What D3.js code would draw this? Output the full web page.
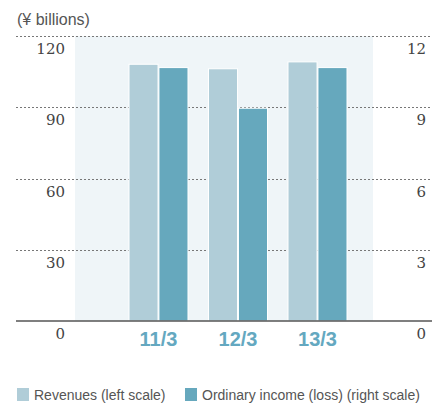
<!DOCTYPE html>
<head>
  <meta charset="utf-8">
  <title>Revenues and Ordinary income</title>
  <script src="https://d3js.org/d3.v7.min.js"></script>
  <style>
    body { margin: 0; background: #fff; }
    #chart { width: 446px; height: 408px; display: block; }
    .tick-label { font-family: "DejaVu Serif", "Liberation Serif", serif; font-size: 15px; fill: #444; }
    .cat-label { font-family: "Liberation Sans", Arial, sans-serif; font-size: 20px; font-weight: bold; fill: #64a8c0; }
    .legend-text { font-family: "Liberation Sans", Arial, sans-serif; font-size: 14px; fill: #555; }
    .unit { font-family: "Liberation Sans", Arial, sans-serif; font-size: 16px; fill: #555; }
  </style>
</head>
<body>
  <svg id="chart"></svg>
  <script>
    var categories = ["11/3", "12/3", "13/3"];
    var revenues = [108.1, 106.2, 109.1];        // left scale, ¥ billions
    var ordinaryIncome = [10.67, 8.96, 10.67];   // right scale, ¥ billions
    var leftTicks = [0, 30, 60, 90, 120];
    var rightTicks = [0, 3, 6, 9, 12];
    var seriesNames = ["Revenues (left scale)", "Ordinary income (loss) (right scale)"];

    var svg = d3.select("#chart");
    var x0 = 16, x1 = 432;
    var yTop = 36, yBase = 321;

    var yLeft = d3.scaleLinear().domain([0, 120]).range([yBase, yTop]);
    var yRight = d3.scaleLinear().domain([0, 12]).range([yBase, yTop]);

    var x = d3.scaleBand().domain(categories).range([129, 347]).paddingInner(0.258).paddingOuter(0);
    var xSub = d3.scaleBand().domain(["rev", "inc"]).range([0, x.bandwidth()]).paddingInner(0.03);

    // light panel behind the bars
    svg.append("rect")
      .attr("x", 75).attr("y", yTop)
      .attr("width", 373 - 75).attr("height", yBase - yTop)
      .attr("fill", "#eff5f8");

    // unit label
    svg.append("text").attr("class", "unit")
      .attr("x", 17).attr("y", 25).text("(¥ billions)");

    // dotted gridlines
    svg.selectAll(".grid")
      .data(leftTicks.filter(function(d) { return d > 0; }))
      .enter().append("line")
      .attr("x1", x0).attr("x2", x1)
      .attr("y1", function(d) { return Math.round(yLeft(d)) + 0.5; })
      .attr("y2", function(d) { return Math.round(yLeft(d)) + 0.5; })
      .attr("stroke", "#777")
      .attr("stroke-width", 1)
      .attr("stroke-dasharray", "2,2");

    // left tick labels
    svg.selectAll(".ltick")
      .data(leftTicks)
      .enter().append("text")
      .attr("class", "tick-label")
      .attr("x", 65)
      .attr("y", function(d) { return yLeft(d) + 18; })
      .attr("text-anchor", "end")
      .text(function(d) { return d; });

    // right tick labels
    svg.selectAll(".rtick")
      .data(rightTicks)
      .enter().append("text")
      .attr("class", "tick-label")
      .attr("x", 426)
      .attr("y", function(d) { return yRight(d) + 18; })
      .attr("text-anchor", "end")
      .text(function(d) { return d; });

    // bars
    var groups = svg.selectAll(".grp")
      .data(categories)
      .enter().append("g")
      .attr("transform", function(d) { return "translate(" + x(d) + ",0)"; });

    groups.append("rect")
      .attr("x", xSub("rev"))
      .attr("width", xSub.bandwidth())
      .attr("y", function(d, i) { return yLeft(revenues[i]); })
      .attr("height", function(d, i) { return yBase - yLeft(revenues[i]); })
      .attr("fill", "#b0cdd8")
      .attr("stroke", "#fff").attr("stroke-width", 1);

    groups.append("rect")
      .attr("x", xSub("inc"))
      .attr("width", xSub.bandwidth())
      .attr("y", function(d, i) { return yRight(ordinaryIncome[i]); })
      .attr("height", function(d, i) { return yBase - yRight(ordinaryIncome[i]); })
      .attr("fill", "#66a8bd")
      .attr("stroke", "#fff").attr("stroke-width", 1);

    // baseline
    svg.append("line")
      .attr("x1", x0).attr("x2", x1)
      .attr("y1", yBase).attr("y2", yBase)
      .attr("stroke", "#555").attr("stroke-width", 1.5);

    // category labels
    svg.selectAll(".cat")
      .data(categories)
      .enter().append("text")
      .attr("class", "cat-label")
      .attr("x", function(d) { return x(d) + x.bandwidth() / 2; })
      .attr("y", 346)
      .attr("text-anchor", "middle")
      .text(function(d) { return d; });

    // legend
    var legendColors = ["#b0cdd8", "#66a8bd"];
    var legendX = [17, 185];
    var lg = svg.selectAll(".lg")
      .data(seriesNames)
      .enter().append("g")
      .attr("transform", function(d, i) { return "translate(" + legendX[i] + ",388)"; });
    lg.append("rect")
      .attr("width", 12).attr("height", 13)
      .attr("fill", function(d, i) { return legendColors[i]; });
    lg.append("text").attr("class", "legend-text")
      .attr("x", 17).attr("y", 11.5)
      .text(function(d) { return d; });
  </script>
</body>
</html>
